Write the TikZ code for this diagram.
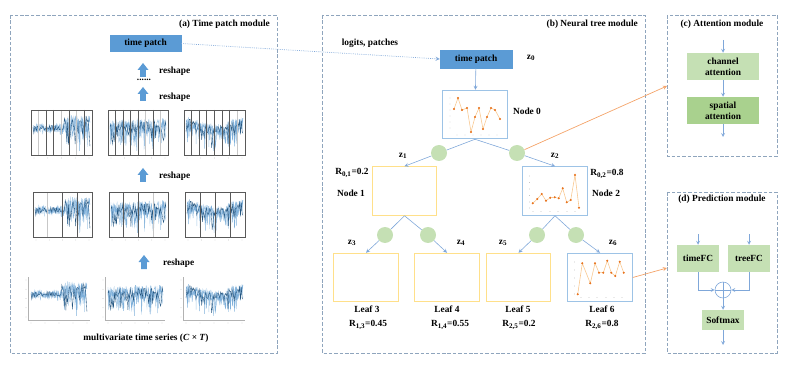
\documentclass[tikz,border=0pt]{standalone}
\usepackage{fontspec}
\setmainfont{Liberation Serif}

\definecolor{patchblue}{HTML}{5B9BD5}
\definecolor{linkblue}{HTML}{7FA7D9}
\definecolor{framegray}{HTML}{8FA5BD}
\definecolor{nodeblue}{HTML}{9DC3E6}
\definecolor{nodeyellow}{HTML}{FFE08A}
\definecolor{leafgreen}{HTML}{C5E0B4}
\definecolor{deepgreen}{HTML}{A9D18E}
\definecolor{linkorange}{HTML}{F4A46A}
\definecolor{chartorange}{HTML}{F8C78F}
\definecolor{dotorange}{HTML}{E8731E}
\definecolor{tslight}{HTML}{7FB0DA}
\definecolor{tsdark}{HTML}{24557F}
\colorlet{barDark}{black!65}
\colorlet{barGray}{black!22}

\newcommand{\upblock}[2]{%
  \fill[patchblue] ({#1-2.8},{#2+7}) -- ({#1-2.8},#2) -- ({#1-5.5},#2) -- (#1,{#2-7})
    -- ({#1+5.5},#2) -- ({#1+2.8},#2) -- ({#1+2.8},{#2+7}) -- cycle;
}
\newcommand{\tsseries}[8]{%
  \pgfmathsetseed{#5}
  \draw[tslight!70, line width=0.3pt] plot[domain=0:1, samples=170]
    ({#1+#3*\x},{#2+#4*min(0.97,max(0.03,(#6)+(#7)*rand+(#8)*max(0,rand)^2))});
  \draw[tslight, line width=0.35pt] plot[domain=0:1, samples=120]
    ({#1+#3*\x},{#2+#4*min(0.97,max(0.03,(#6)+(#7)*rand+(#8)*max(0,rand)^2))});
  \draw[tsdark, line width=0.3pt] plot[domain=0:1, samples=70]
    ({#1+#3*\x},{#2+#4*min(0.97,max(0.03,(#6)+0.7*(#7)*rand+0.8*(#8)*max(0,rand)^2))});
}
\newcommand{\tsframe}[6]{%
  \foreach \c [count=\k] in {#6}
    \draw[\c, line width=0.7pt] ({#1+(#3-#1)*\k/(#5+1)},#2) -- ({#1+(#3-#1)*\k/(#5+1)},#4);
  \draw[barDark, line width=0.7pt] (#1,#2) rectangle (#3,#4);
  \foreach \k in {0,...,4}
    \fill[black!35] ({#1+3+(#3-#1-6)*\k/4},#4+3) circle (0.3pt);
}
\newcommand{\tsaxes}[4]{%
  \draw[black!30, line width=0.4pt] (#1,#2) -- (#1,#4) -- (#3,#4);
  \foreach \k in {0,...,4}
    \fill[black!35] ({#1+3+(#3-#1-6)*\k/4},#4+3) circle (0.3pt);
  \foreach \k in {0,...,4}
    \fill[black!35] (#1-2,{#2+3+(#4-#2-6)*\k/4}) circle (0.3pt);
}

\begin{document}
\begin{tikzpicture}[x=0.03cm, y=-0.03cm, >=stealth,
  font=\fontsize{8}{9.5}\selectfont\bfseries,
  panel/.style={draw=framegray, line width=0.6pt, dash pattern=on 3pt off 1.6pt},
  patch/.style={fill=patchblue, draw=patchblue},
  treenode/.style={draw=nodeblue, line width=0.7pt, minimum width=1.94cm, minimum height=1.46cm},
  emptynode/.style={draw=nodeyellow, line width=0.7pt, minimum width=1.94cm, minimum height=1.46cm},
  gate/.style={circle, fill=leafgreen, minimum size=0.48cm, inner sep=0pt},
  greenbox/.style={fill=leafgreen, align=center},
  deepbox/.style={fill=deepgreen, align=center},
  flow/.style={draw=linkblue, line width=0.5pt},
  orangelink/.style={draw=linkorange, line width=0.6pt},
  dotlink/.style={draw=linkblue, line width=0.6pt, densely dotted},
  chartline/.style={draw=chartorange, line width=0.5pt, mark=*, mark size=0.6pt,
    mark options={draw=dotorange, fill=dotorange}}]
\useasboundingbox (0,0) rectangle (789,372);

\draw[panel] (10,15) rectangle (277,353);
\draw[panel] (322,15) rectangle (645,353);
\draw[panel] (667,15) rectangle (777,156);
\draw[panel] (667,192) rectangle (777,353);

\node[anchor=east] (titleA) at (274,24) {(a) Time patch module};
\node[anchor=east] (titleB) at (642,24) {(b) Neural tree module};
\node (titleC) at (722,24) {(c) Attention module};
\node (titleD) at (722,199) {(d) Prediction module};

% (a) time patch module
\node[patch, minimum width=2.13cm, minimum height=0.45cm] (tpA) at (145.5,43.5) {time patch};
\upblock{143}{70}
\node[anchor=west] (rs1) at (155,71) {reshape};
\node (dots) at (144,79.5) {......};
\upblock{143}{94}
\node[anchor=west] (rs2) at (155,97) {reshape};

\tsseries{33}{112}{57}{40}{11}{0.4-0.12*(\x>0.55)}{0.1+0.14*(\x>0.55)}{0.1+0.5*(\x>0.55)}
\tsframe{31}{110}{92}{155}{7}{barGray,barDark,barDark,barGray,barDark,barGray,barDark}
\tsseries{110}{112}{56}{40}{23}{0.32+0.05*(\x<0.2)}{0.16}{0.55}
\tsframe{108}{110}{168}{155}{7}{barDark,barDark,barDark,barDark,barGray,barDark,barGray}
\tsseries{186}{112}{57}{40}{37}{0.22+0.22*sin(180*\x)}{0.15}{0.5}
\tsframe{184}{110}{245}{155}{7}{barDark,barDark,barDark,barDark,barDark,barDark,barGray}

\upblock{143}{175}
\node[anchor=west] (rs3) at (155,176) {reshape};

\tsseries{35}{194}{55}{40}{11}{0.4-0.12*(\x>0.55)}{0.1+0.14*(\x>0.55)}{0.1+0.5*(\x>0.55)}
\tsframe{33}{192}{92}{237}{3}{barGray,barDark,barDark}
\tsseries{111}{194}{55}{40}{23}{0.32+0.05*(\x<0.2)}{0.16}{0.55}
\tsframe{109}{192}{168}{237}{3}{barDark,barDark,barGray}
\tsseries{187}{194}{56}{40}{37}{0.22+0.22*sin(180*\x)}{0.15}{0.5}
\tsframe{185}{192}{245}{237}{3}{barDark,barDark,barDark}

\upblock{144}{262}
\node[anchor=west] (rs4) at (159,263) {reshape};

\tsseries{31}{279}{56}{38}{11}{0.4-0.12*(\x>0.55)}{0.1+0.14*(\x>0.55)}{0.1+0.5*(\x>0.55)}
\tsaxes{28}{277}{90}{320}
\tsseries{108}{279}{55}{38}{23}{0.32+0.05*(\x<0.2)}{0.16}{0.55}
\tsaxes{105}{277}{165}{320}
\tsseries{186}{279}{57}{38}{37}{0.22+0.22*sin(180*\x)}{0.15}{0.5}
\tsaxes{183}{277}{245}{320}

\node (mts) at (146,338) {multivariate time series (\textit{C} × \textit{T})};

% (b) neural tree module
\node (logits) at (370,43) {logits, patches};
\node[patch, minimum width=2.16cm, minimum height=0.54cm] (tpB) at (476,59) {time patch};
\node (z0) at (531,58) {z\textsubscript{0}};
\node[treenode] (n0) at (475,114.5) {};
\node (n0lab) at (527,111) {Node 0};

\node[gate] (g1) at (439,153) {};
\node[gate] (g2) at (517,153) {};
\node (z1) at (403,156) {z\textsubscript{1}};
\node (z2) at (555,156) {z\textsubscript{2}};

\node[emptynode] (n1) at (404.5,191) {};
\node[treenode] (n2) at (555,191) {};
\node (r01) at (352,173) {R\textsubscript{0,1}=0.2};
\node (r02) at (607,174) {R\textsubscript{0,2}=0.8};
\node (n1lab) at (351,193) {Node 1};
\node (n2lab) at (606,193) {Node 2};

\node[gate] (g3) at (385,235) {};
\node[gate] (g4) at (428,235) {};
\node[gate] (g5) at (537,235) {};
\node[gate] (g6) at (576,235) {};
\node (z3) at (352,243) {z\textsubscript{3}};
\node (z4) at (461,243) {z\textsubscript{4}};
\node (z5) at (503,243) {z\textsubscript{5}};
\node (z6) at (613,243) {z\textsubscript{6}};

\node[emptynode] (l3) at (366,277.5) {};
\node[emptynode] (l4) at (447,277.5) {};
\node[emptynode] (l5) at (518.5,277.5) {};
\node[treenode] (l6) at (600,277.5) {};

\node (l3lab) at (367,309) {Leaf 3};
\node (l4lab) at (447,309) {Leaf 4};
\node (l5lab) at (518,309) {Leaf 5};
\node (l6lab) at (602,309) {Leaf 6};
\node (r13) at (368,325) {R\textsubscript{1,3}=0.45};
\node (r14) at (450,325) {R\textsubscript{1,4}=0.55};
\node (r25) at (519,325) {R\textsubscript{2,5}=0.2};
\node (r26) at (602,325) {R\textsubscript{2,6}=0.8};

\draw[flow,->] (tpB) -- (n0);
\draw[flow] (n0.south) -- (g1);
\draw[flow,->] (g1) -- (n1.north);
\draw[flow] (n0.south) -- (g2);
\draw[flow,->] (g2) -- (n2.north);
\draw[flow] (n1.south) -- (g3);
\draw[flow,->] (g3) -- (l3.north);
\draw[flow] (n1.south) -- (g4);
\draw[flow,->] (g4) -- (l4.north);
\draw[flow] (n2.south) -- (g5);
\draw[flow,->] (g5) -- (l5.north);
\draw[flow] (n2.south) -- (g6);
\draw[flow,->] (g6) -- (l6.north);

\foreach \yy in {98,104,110,116,122,128} \fill[black!35] (450,\yy) circle (0.3pt);
\foreach \xx in {457,465,473,481,489,497} \fill[black!35] (\xx,135) circle (0.3pt);
\draw[chartline] plot coordinates {(454,109) (458,98) (462,110) (467,108) (471,132) (475,117)
  (479,108) (483,129) (487,117) (491,108) (495,110) (500,119)};

\foreach \yy in {176,182.5,189,195.5,202,208} \fill[black!35] (529.5,\yy) circle (0.3pt);
\foreach \xx in {533,541,550,558,567,575} \fill[black!35] (\xx,211.5) circle (0.3pt);
\draw[chartline] plot coordinates {(532.7,203.3) (537.3,199) (541.7,194) (546,200.7) (550.3,197.7)
  (554.7,197.3) (558.7,198.3) (562.7,188.3) (566.7,202.3) (570.7,200) (575,175) (579,207.7)};

\foreach \yy in {262,270,278,286,294} \fill[black!35] (574.5,\yy) circle (0.3pt);
\foreach \xx in {581,589,597,606,614,622} \fill[black!35] (\xx,297.5) circle (0.3pt);
\draw[chartline] plot coordinates {(577.7,294.3) (582.3,263.3) (590.3,283.3) (595,263.3) (599,272.7)
  (603.3,272.7) (607.3,260.7) (611.3,272.7) (615.3,276) (619.7,261.7) (623.7,272.7)};

% (c) attention module
\coordinate (cin) at (723,40);
\node[greenbox, minimum width=2.16cm, minimum height=0.81cm] (chan) at (723,66.5) {channel\\attention};
\node[deepbox, minimum width=2.16cm, minimum height=0.81cm] (spat) at (723,110.5) {spatial\\attention};
\coordinate (cout) at (723,137);
\draw[flow,->] (cin) -- (chan);
\draw[flow,->] (chan) -- (spat);
\draw[flow,->] (spat) -- (cout);

% (d) prediction module
\coordinate (tin) at (698,234);
\coordinate (rin) at (749,234);
\node[greenbox, minimum width=1.26cm, minimum height=0.81cm] (tfc) at (698,258.5) {timeFC};
\node[greenbox, minimum width=1.26cm, minimum height=0.81cm] (rfc) at (749,258.5) {treeFC};
\node[circle, draw=linkblue, line width=0.5pt, minimum size=0.48cm, inner sep=0pt,
  path picture={\draw[linkblue, line width=0.5pt] (path picture bounding box.north) -- (path picture bounding box.south)
  (path picture bounding box.west) -- (path picture bounding box.east);}] (plus) at (723,290) {};
\node[greenbox, minimum width=1.26cm, minimum height=0.6cm] (soft) at (723,320) {Softmax};
\coordinate (sout) at (723,345);
\draw[flow,->] (tin) -- (tfc);
\draw[flow,->] (rin) -- (rfc);
\draw[flow,->] (tfc.south) |- (plus.west);
\draw[flow,->] (rfc.south) |- (plus.east);
\draw[flow,->] (plus) -- (soft);
\draw[flow,->] (soft) -- (sout);

% links between modules
\coordinate (attnin) at (667,86);
\coordinate (predin) at (667,268);
\draw[dotlink,->] (tpA.east) -- (tpB.west);
\draw[orangelink,->] (g2) -- (attnin);
\draw[orangelink,->] (l6.east) -- (predin);
\end{tikzpicture}
\end{document}
